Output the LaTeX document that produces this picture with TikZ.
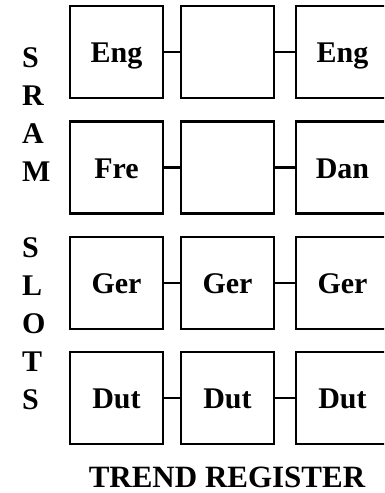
\documentclass[tikz,border=0pt]{standalone}
\usepackage{fontspec}
\setmainfont{Liberation Serif}
\usepackage{tikz}
\usetikzlibrary{positioning}

\begin{document}
\begin{tikzpicture}[x=1pt, y=-1pt,
    slotbox/.style={draw, line width=2.5pt, minimum width=93pt, minimum height=92pt,
        inner sep=0pt, text height=21pt, text depth=0pt,
        font=\fontsize{30}{30}\selectfont\bfseries},
    letter/.style={anchor=base west, inner sep=0pt, font=\fontsize{30}{30}\selectfont\bfseries},
    link/.style={line width=2.5pt}]
    \clip (0,0) rectangle (384,493);
    \useasboundingbox (0,0) rectangle (384,493);

    % SRAM slots
    \foreach \l/\y [count=\i] in {S/67, R/105, A/143, M/181, S/257, L/295, O/333, T/371, S/409}
        \node[letter] (side\i) at (22,\y) {\l};

    % Trend register
    \node[slotbox] (r1c1) at (116.5,52) {Eng};
    \node[slotbox] (r1c2) at (227.5,52) {};
    \node[slotbox] (r1c3) at (342.5,52) {Eng};

    \node[slotbox] (r2c1) at (116.5,167.5) {Fre};
    \node[slotbox] (r2c2) at (227.5,167.5) {};
    \node[slotbox] (r2c3) at (342.5,167.5) {Dan};

    \node[slotbox] (r3c1) at (116.5,283) {Ger};
    \node[slotbox] (r3c2) at (227.5,283) {Ger};
    \node[slotbox] (r3c3) at (342.5,283) {Ger};

    \node[slotbox] (r4c1) at (116.5,398) {Dut};
    \node[slotbox] (r4c2) at (227.5,398) {Dut};
    \node[slotbox] (r4c3) at (342.5,398) {Dut};

    % Links between boxes
    \foreach \r in {1,2,3,4} {
        \draw[link] (r\r c1) -- (r\r c2);
        \draw[link] (r\r c2) -- (r\r c3);
    }

    \node[anchor=base, inner sep=0pt, font=\fontsize{31}{31}\selectfont\bfseries]
        (title) at (227,487) {TREND REGISTER};
\end{tikzpicture}
\end{document}
